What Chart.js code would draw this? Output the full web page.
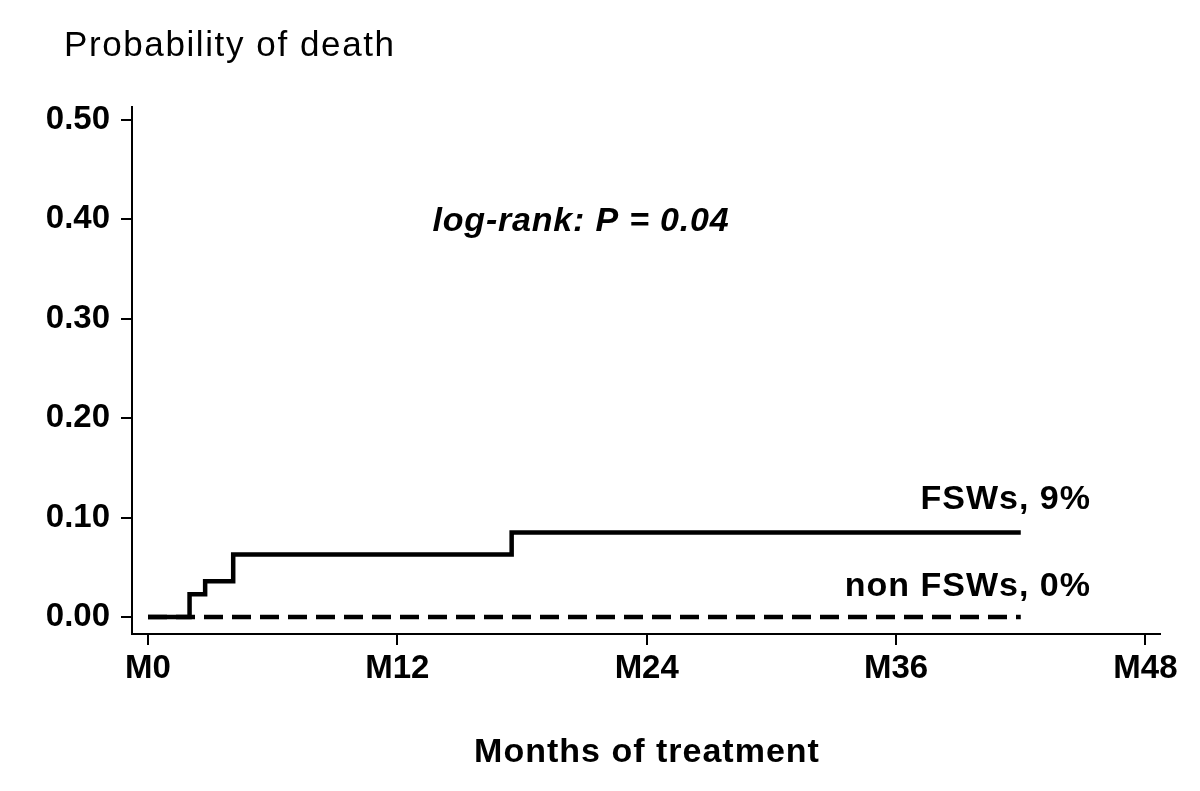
<!DOCTYPE html>
<html>
<head>
<meta charset="utf-8">
<title>Probability of death</title>
<script src="https://cdn.jsdelivr.net/npm/chart.js@4/dist/chart.umd.min.js"></script>
<style>
    body { margin: 0; background: #fff; }
    canvas { display: block; }
</style>
</head>
<body>
<canvas id="km" width="1200" height="791"></canvas>
<script>
// Kaplan-Meier steps (months, probability)
let fswMonths = [0, 2.0, 2.75, 4.1, 17.5, 42];
let fswProb = [0, 0.023, 0.036, 0.063, 0.085, 0.085];
let nonFswMonths = [0, 42];
let nonFswProb = [0, 0];

let xTicks = [0, 12, 24, 36, 48];
let yTicks = [0, 0.1, 0.2, 0.3, 0.4, 0.5];

let fontFamily = '"Liberation Sans", Arial, sans-serif';

let toPoints = (xs, ys) => {
    let out = [];
    xs.forEach((x, i) => out.push({x: x, y: ys[i]}));
    return out;
}

let labelPlugin = {
    id: 'labels',
    afterDraw(chart) {
        let ctx = chart.ctx;
        let x = chart.scales.x;
        let y = chart.scales.y;
        ctx.save();
        ctx.fillStyle = '#000';
        ctx.textBaseline = 'middle';

        ctx.font = '35px ' + fontFamily;
        ctx.letterSpacing = '1.6px';
        ctx.textAlign = 'left';
        ctx.fillText('Probability of death', 64, 46);

        ctx.font = 'bold 34px ' + fontFamily;
        ctx.letterSpacing = '1px';
        ctx.textAlign = 'center';
        ctx.fillText('Months of treatment', (x.left + x.right) / 2 + 1, 753);

        ctx.font = 'italic bold 34px ' + fontFamily;
        ctx.letterSpacing = '0.8px';
        ctx.fillText('log-rank: P = 0.04', 581, 222);

        ctx.font = 'bold 34px ' + fontFamily;
        ctx.letterSpacing = '1px';
        ctx.textAlign = 'right';
        ctx.fillText('FSWs, 9%', 1091, y.getPixelForValue(0.118));
        ctx.fillText('non FSWs, 0%', 1091, y.getPixelForValue(0.031));
        ctx.restore();
    }
}

let axisStyle = {
    grid: {
        display: true,
        drawOnChartArea: false,
        drawTicks: true,
        tickLength: 11,
        color: '#000',
        lineWidth: 2
    },
    border: {
        display: true,
        color: '#000',
        width: 2
    }
}

new Chart(document.getElementById('km').getContext('2d'), {
    type: 'line',
    data: {
        datasets: [{
            label: 'non FSWs',
            data: toPoints(nonFswMonths, nonFswProb),
            borderColor: '#000',
            borderWidth: 4.5,
            borderDash: [19, 9],
            borderCapStyle: 'butt',
            pointRadius: 0,
            fill: false
        }, {
            label: 'FSWs',
            data: toPoints(fswMonths, fswProb),
            borderColor: '#000',
            borderWidth: 4.5,
            stepped: 'before',
            pointRadius: 0,
            fill: false
        }]
    },
    options: {
        responsive: false,
        animation: false,
        devicePixelRatio: 1,
        layout: {
            padding: {top: 107, right: 40, left: 0, bottom: 0}
        },
        plugins: {
            legend: {display: false},
            tooltip: {enabled: false}
        },
        scales: {
            x: {
                type: 'linear',
                min: -0.77,
                max: 48.7,
                afterBuildTicks: scale => {
                    scale.ticks = xTicks.map(v => ({value: v}));
                },
                afterFit: scale => {
                    scale.height = 157;
                },
                ticks: {
                    color: '#000',
                    font: {family: fontFamily, size: 33, weight: 'bold'},
                    padding: 4,
                    maxRotation: 0,
                    callback: v => 'M' + v
                },
                ...axisStyle
            },
            y: {
                type: 'linear',
                min: -0.017,
                max: 0.513,
                afterBuildTicks: scale => {
                    scale.ticks = yTicks.map(v => ({value: v}));
                },
                afterFit: scale => {
                    scale.width = 132;
                },
                ticks: {
                    color: '#000',
                    font: {family: fontFamily, size: 33, weight: 'bold'},
                    padding: 11,
                    callback: v => v.toFixed(2)
                },
                ...axisStyle
            }
        }
    },
    plugins: [labelPlugin]
});
</script>
</body>
</html>
